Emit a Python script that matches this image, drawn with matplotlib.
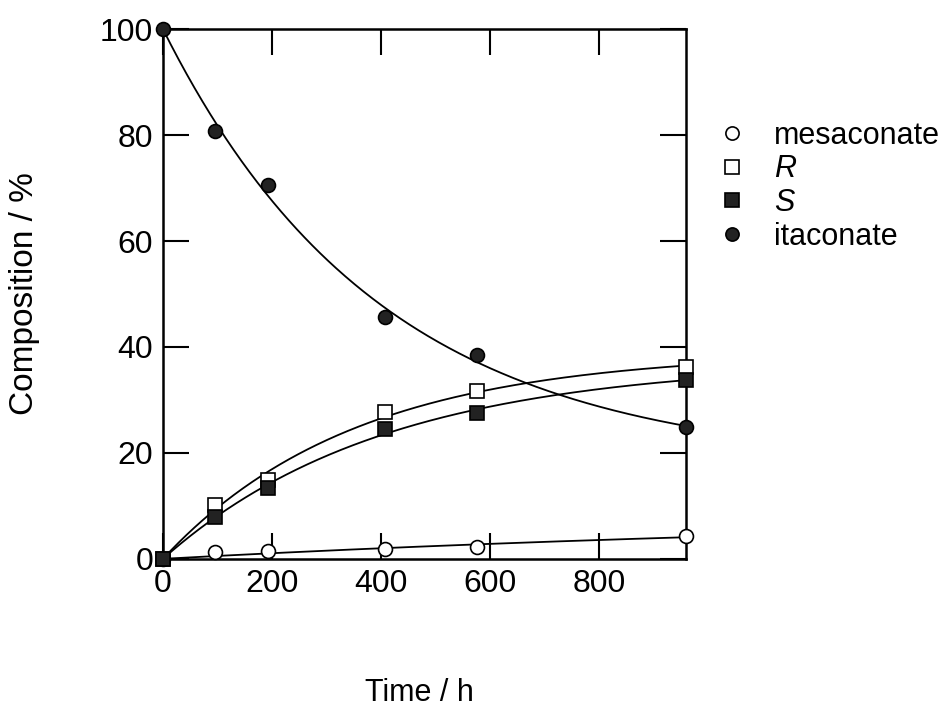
import numpy as np
import matplotlib
matplotlib.use('Agg')
import matplotlib.pyplot as plt

plt.rcParams['font.family'] = ['Liberation Sans', 'DejaVu Sans']

# Data
time_h = [0, 96, 192, 408, 576, 960]
mesaconate = [0, 1.2, 1.5, 1.9, 2.2, 4.3]
r_isomer = [0, 10.2, 14.8, 27.7, 31.6, 36.2]
s_isomer = [0, 7.9, 13.4, 24.6, 27.6, 33.8]
itaconate = [100, 80.8, 70.6, 45.6, 38.4, 24.8]

xticks = [0, 200, 400, 600, 800]
yticks = [0, 20, 40, 60, 80, 100]


def fit_first_order(t, y, y0):
    # y = a + (y0 - a) * exp(-k t), grid search over k, least squares for a
    t = np.asarray(t, float)
    y = np.asarray(y, float)
    best = None
    for k in np.logspace(-6, -1, 4000):
        e = np.exp(-k * t)
        basis = 1 - e
        rhs = y - y0 * e
        a = np.dot(basis, rhs) / np.dot(basis, basis)
        err = np.sum((rhs - a * basis) ** 2)
        if best is None or err < best[0]:
            best = (err, a, k)
    _, a, k = best
    return lambda tt: a + (y0 - a) * np.exp(-k * tt)


fig = plt.figure(figsize=(9.53, 7.11), dpi=100)
ax = fig.add_axes([0.171, 0.214, 0.549, 0.745])

tt = np.linspace(0, 960, 400)
series = [
    (mesaconate, 0, 'o', 'white', 'mesaconate'),
    (r_isomer, 0, 's', 'white', 'R'),
    (s_isomer, 0, 's', '#222222', 'S'),
    (itaconate, 100, 'o', '#222222', 'itaconate'),
]

handles = []
for y, y0, mk, fc, lab in series:
    f = fit_first_order(time_h, y, y0)
    ax.plot(tt, f(tt), color='black', linewidth=1.3, zorder=2)
    h, = ax.plot(time_h, y, linestyle='none', marker=mk, markersize=10,
                 markerfacecolor=fc, markeredgecolor='black',
                 markeredgewidth=1.2, clip_on=False, zorder=3, label=lab)
    handles.append(h)

ax.set_xlim(0, 960)
ax.set_ylim(0, 100)
ax.set_xticks(xticks)
ax.set_yticks(yticks)
ax.tick_params(direction='in', length=19, width=1.5, top=True, right=True,
               labelsize=23, pad=7)
for sp in ax.spines.values():
    sp.set_linewidth(1.8)

ax.set_xlabel('Time / h', fontsize=22)
ax.set_ylabel('Composition / %', fontsize=24)
ax.xaxis.set_label_coords(0.49, -0.225)
ax.yaxis.set_label_coords(-0.235, 0.5)

leg = ax.legend(handles=handles, loc='upper left',
                bbox_to_anchor=(1.04, 0.85), frameon=False, fontsize=22,
                handlelength=0.8, handletextpad=1.0, labelspacing=0.12,
                borderaxespad=0)
for h in leg.legend_handles:
    h.set_markersize(9.5)
leg.get_texts()[1].set_fontstyle('italic')
leg.get_texts()[2].set_fontstyle('italic')

fig.savefig('out.png', dpi=100)
